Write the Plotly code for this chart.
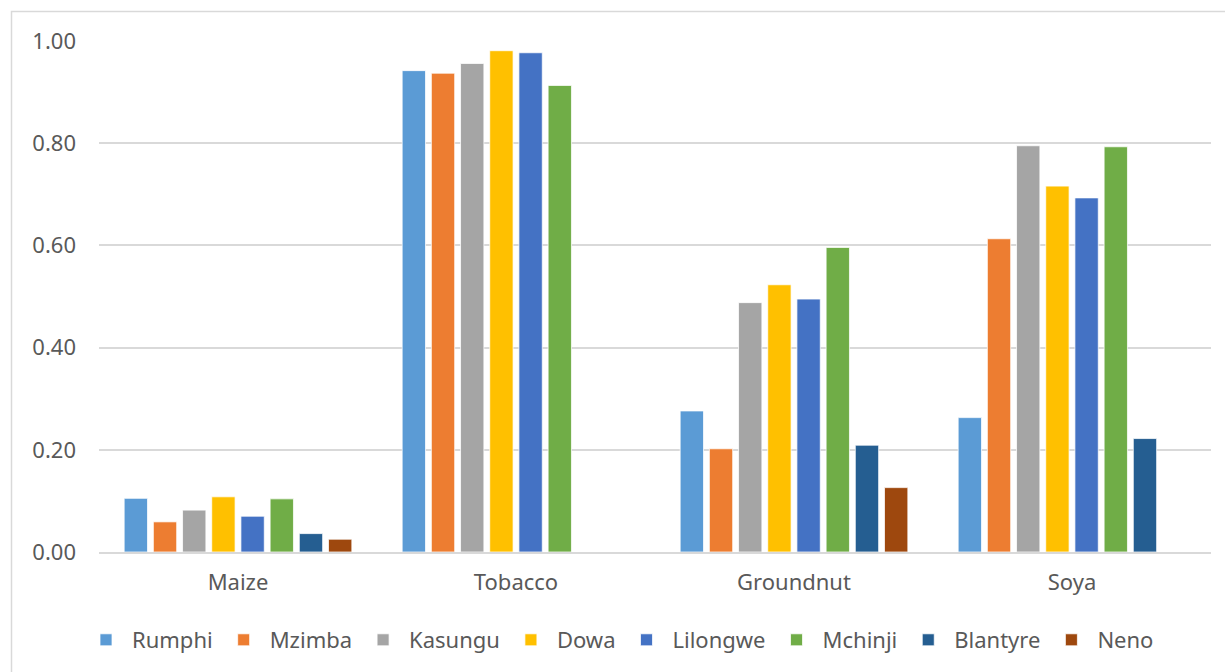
import plotly.graph_objects as go

categories = ["Maize", "Tobacco", "Groundnut", "Soya"]
series_names = ["Rumphi", "Mzimba", "Kasungu", "Dowa", "Lilongwe", "Mchinji", "Blantyre", "Neno"]

rumphi = [0.105, 0.942, 0.276, 0.263]
mzimba = [0.059, 0.937, 0.202, 0.613]
kasungu = [0.082, 0.956, 0.488, 0.795]
dowa = [0.108, 0.981, 0.523, 0.716]
lilongwe = [0.070, 0.977, 0.495, 0.693]
mchinji = [0.104, 0.913, 0.596, 0.793]
blantyre = [0.036, None, 0.209, 0.222]
neno = [0.025, None, 0.126, None]

values = [rumphi, mzimba, kasungu, dowa, lilongwe, mchinji, blantyre, neno]
colors = ["#5B9BD5", "#ED7D31", "#A5A5A5", "#FFC000", "#4472C4", "#70AD47", "#255E91", "#9E480E"]

tick_vals = [0.0, 0.2, 0.4, 0.6, 0.8, 1.0]

FONT = "Noto Sans"
TXT = "#595959"
GRID = "#D9D9D9"

fig = go.Figure()
for name, vals, col in zip(series_names, values, colors):
    fig.add_trace(go.Bar(
        name=name, x=categories, y=vals,
        marker=dict(color=col, line=dict(color="white", width=0.75)),
    ))

fig.update_layout(
    width=1225, height=672,
    margin=dict(l=99, r=14, t=41, b=120, autoexpand=False),
    paper_bgcolor="white", plot_bgcolor="white",
    barmode="group", bargap=0.16, bargroupgap=0.2,
    font=dict(family=FONT, size=22, color=TXT),
    showlegend=True,
    legend=dict(
        orientation="h", xref="container", yref="container",
        x=80 / 1225, xanchor="left", y=1 - 640 / 672, yanchor="middle",
        font=dict(family=FONT, size=22, color=TXT),
        itemwidth=42, traceorder="normal",
        bgcolor="rgba(0,0,0,0)",
    ),
    xaxis=dict(
        showgrid=False, showline=True, linecolor=GRID, linewidth=1.5,
        ticks="", ticklabelstandoff=10,
        tickfont=dict(family=FONT, size=22, color=TXT),
    ),
    yaxis=dict(
        range=[0, 1.0], tickvals=tick_vals, tickformat=".2f",
        showgrid=True, gridcolor=GRID, gridwidth=1.5,
        zeroline=False, showline=False, ticks="",
        ticklabelstandoff=22,
        tickfont=dict(family=FONT, size=22, color=TXT),
    ),
    shapes=[dict(
        type="rect", xref="paper", yref="paper",
        x0=(11.5 - 99) / 1112, x1=1.2,
        y0=-0.6, y1=1 + (41 - 11.5) / 511,
        line=dict(color=GRID, width=1.5), fillcolor="rgba(0,0,0,0)",
        layer="below",
    )],
)

fig.write_html("out.html")
